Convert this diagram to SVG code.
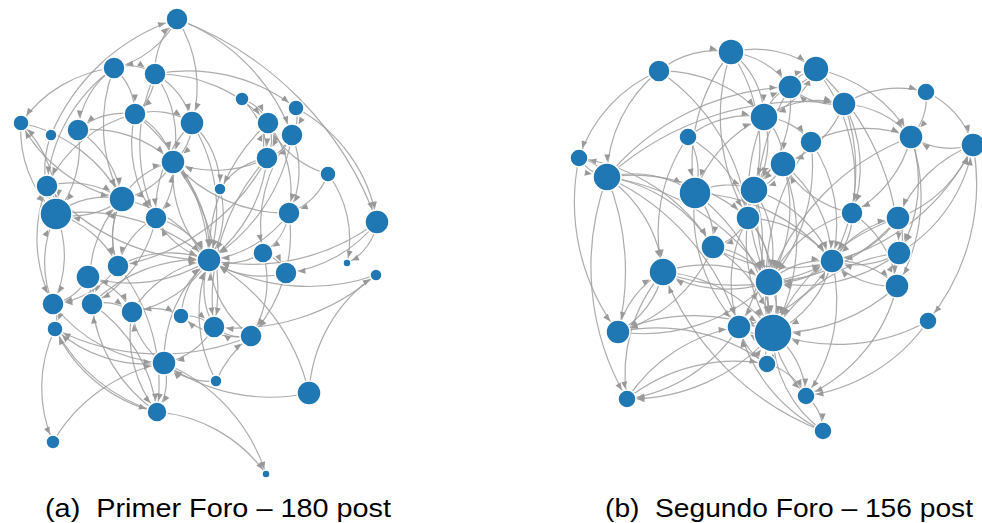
<svg xmlns="http://www.w3.org/2000/svg" width="982" height="523" viewBox="0 0 982 523">
<style>
.bg{fill:#fff}
.e path{fill:none;stroke:#9e9e9e;stroke-width:1.2;stroke-opacity:0.85}
.mk{fill:#999}
.n circle{fill:#1f77b4;stroke:#fff;stroke-width:1.5}
.cap{font-family:"Liberation Sans",Arial,sans-serif;font-size:25px;fill:#000}
.t4{marker-end:url(#m4)}.t6{marker-end:url(#m6)}.t7{marker-end:url(#m7)}.t8{marker-end:url(#m8)}
.t9{marker-end:url(#m9)}.t10{marker-end:url(#m10)}.t11{marker-end:url(#m11)}.t12{marker-end:url(#m12)}
.t13{marker-end:url(#m13)}.t14{marker-end:url(#m14)}.t16{marker-end:url(#m16)}.t19{marker-end:url(#m19)}
</style>
<defs>
<marker id="m4" markerUnits="userSpaceOnUse" markerWidth="8" markerHeight="7" refX="12.5" refY="3" orient="auto" overflow="visible"><path class="mk" d="M0,0L7,3L0,6Z"/></marker>
<marker id="m6" markerUnits="userSpaceOnUse" markerWidth="8" markerHeight="7" refX="14.5" refY="3" orient="auto" overflow="visible"><path class="mk" d="M0,0L7,3L0,6Z"/></marker>
<marker id="m7" markerUnits="userSpaceOnUse" markerWidth="8" markerHeight="7" refX="15.5" refY="3" orient="auto" overflow="visible"><path class="mk" d="M0,0L7,3L0,6Z"/></marker>
<marker id="m8" markerUnits="userSpaceOnUse" markerWidth="8" markerHeight="7" refX="16.5" refY="3" orient="auto" overflow="visible"><path class="mk" d="M0,0L7,3L0,6Z"/></marker>
<marker id="m9" markerUnits="userSpaceOnUse" markerWidth="8" markerHeight="7" refX="17.5" refY="3" orient="auto" overflow="visible"><path class="mk" d="M0,0L7,3L0,6Z"/></marker>
<marker id="m10" markerUnits="userSpaceOnUse" markerWidth="8" markerHeight="7" refX="18.5" refY="3" orient="auto" overflow="visible"><path class="mk" d="M0,0L7,3L0,6Z"/></marker>
<marker id="m11" markerUnits="userSpaceOnUse" markerWidth="8" markerHeight="7" refX="19.5" refY="3" orient="auto" overflow="visible"><path class="mk" d="M0,0L7,3L0,6Z"/></marker>
<marker id="m12" markerUnits="userSpaceOnUse" markerWidth="8" markerHeight="7" refX="20.5" refY="3" orient="auto" overflow="visible"><path class="mk" d="M0,0L7,3L0,6Z"/></marker>
<marker id="m13" markerUnits="userSpaceOnUse" markerWidth="8" markerHeight="7" refX="21.5" refY="3" orient="auto" overflow="visible"><path class="mk" d="M0,0L7,3L0,6Z"/></marker>
<marker id="m14" markerUnits="userSpaceOnUse" markerWidth="8" markerHeight="7" refX="22.5" refY="3" orient="auto" overflow="visible"><path class="mk" d="M0,0L7,3L0,6Z"/></marker>
<marker id="m16" markerUnits="userSpaceOnUse" markerWidth="8" markerHeight="7" refX="24.5" refY="3" orient="auto" overflow="visible"><path class="mk" d="M0,0L7,3L0,6Z"/></marker>
<marker id="m19" markerUnits="userSpaceOnUse" markerWidth="8" markerHeight="7" refX="27.5" refY="3" orient="auto" overflow="visible"><path class="mk" d="M0,0L7,3L0,6Z"/></marker>
</defs>
<rect class="bg" x="0" y="0" width="982" height="523"/>

<g id="connectors-a" class="e">
<path class="t11" d="M177 19A96 96 0 0 1 114 68"/>
<path class="t11" d="M155 74A72 72 0 0 1 177 19"/>
<path class="t11" d="M51 135A205 205 0 0 1 177 19"/>
<path class="t11" d="M177 19A195 195 0 0 1 292 135"/>
<path class="t12" d="M177 19A340 340 0 0 1 377 222"/>
<path class="t8" d="M114 68A130 130 0 0 0 21 123"/>
<path class="t8" d="M155 74A175 175 0 0 1 296 108"/>
<path class="t11" d="M155 74A150 150 0 0 1 268 123"/>
<path class="t11" d="M114 68A86 86 0 0 0 78 130"/>
<path class="t13" d="M114 68A157 157 0 0 0 122 199"/>
<path class="t12" d="M155 74A108 108 0 0 1 173 162"/>
<path class="t12" d="M135 114A70 70 0 0 1 192 123"/>
<path class="t11" d="M135 114A70 70 0 0 0 78 130"/>
<path class="t12" d="M135 114A197 197 0 0 1 209 260"/>
<path class="t11" d="M135 114A127 127 0 0 0 156 218"/>
<path class="t12" d="M192 123A52 52 0 0 1 173 162"/>
<path class="t12" d="M192 123A166 166 0 0 1 209 260"/>
<path class="t11" d="M268 123A42 42 0 0 1 267 158"/>
<path class="t11" d="M267 158A42 42 0 0 1 268 123"/>
<path class="t11" d="M292 135A41 41 0 0 1 267 158"/>
<path class="t11" d="M242 99A43 43 0 0 1 268 123"/>
<path class="t11" d="M296 108A35 35 0 0 1 292 135"/>
<path class="t12" d="M296 108A156 156 0 0 1 377 222"/>
<path class="t12" d="M173 162A127 127 0 0 1 209 260"/>
<path class="t13" d="M173 162A76 76 0 0 1 122 199"/>
<path class="t12" d="M122 199A76 76 0 0 1 173 162"/>
<path class="t12" d="M267 158A145 145 0 0 1 209 260"/>
<path class="t12" d="M220 189A86 86 0 0 1 209 260"/>
<path class="t12" d="M289 213A113 113 0 0 1 209 260"/>
<path class="t12" d="M377 222A209 209 0 0 1 209 260"/>
<path class="t12" d="M263 253A66 66 0 0 1 209 260"/>
<path class="t12" d="M286 273A94 94 0 0 1 209 260"/>
<path class="t12" d="M376 275A202 202 0 0 1 209 260"/>
<path class="t12" d="M251 336A103 103 0 0 1 209 260"/>
<path class="t12" d="M214 327A80 80 0 0 1 209 260"/>
<path class="t12" d="M156 218A83 83 0 0 1 209 260"/>
<path class="t12" d="M118 266A109 109 0 0 1 209 260"/>
<path class="t12" d="M132 312A109 109 0 0 1 209 260"/>
<path class="t12" d="M92 304A149 149 0 0 1 209 260"/>
<path class="t12" d="M56 214A192 192 0 0 1 209 260"/>
<path class="t12" d="M122 199A134 134 0 0 1 209 260"/>
<path class="t12" d="M47 186A212 212 0 0 0 209 260"/>
<path class="t12" d="M209 260A125 125 0 0 1 173 162"/>
<path class="t12" d="M209 260A148 148 0 0 1 88 277"/>
<path class="t11" d="M209 260A114 114 0 0 1 132 312"/>
<path class="t11" d="M209 260A83 83 0 0 1 156 218"/>
<path class="t13" d="M56 214A80 80 0 0 1 122 199"/>
<path class="t16" d="M122 199A80 80 0 0 1 56 214"/>
<path class="t16" d="M47 186A35 35 0 0 1 56 214"/>
<path class="t16" d="M21 123A116 116 0 0 0 56 214"/>
<path class="t8" d="M56 214A116 116 0 0 0 21 123"/>
<path class="t16" d="M78 130A106 106 0 0 1 56 214"/>
<path class="t11" d="M56 214A108 108 0 0 1 53 304"/>
<path class="t16" d="M53 304A108 108 0 0 1 56 214"/>
<path class="t11" d="M47 186A142 142 0 0 0 53 304"/>
<path class="t11" d="M88 277A53 53 0 0 1 53 304"/>
<path class="t11" d="M118 266A89 89 0 0 1 53 304"/>
<path class="t8" d="M53 304A30 30 0 0 1 55 329"/>
<path class="t7" d="M55 329A136 136 0 0 0 53 442"/>
<path class="t12" d="M53 442A166 166 0 0 1 164 363"/>
<path class="t4" d="M164 363A178 178 0 0 1 266 474"/>
<path class="t4" d="M157 412A148 148 0 0 1 266 474"/>
<path class="t12" d="M309 393A182 182 0 0 1 164 363"/>
<path class="t6" d="M309 393A152 152 0 0 1 376 275"/>
<path class="t12" d="M309 393A203 203 0 0 0 209 260"/>
<path class="t12" d="M216 381A145 145 0 0 1 209 260"/>
<path class="t11" d="M164 363A72 72 0 0 1 132 312"/>
<path class="t8" d="M164 363A137 137 0 0 1 55 329"/>
<path class="t10" d="M118 266A190 190 0 0 1 157 412"/>
<path class="t10" d="M132 312A125 125 0 0 0 157 412"/>
<path class="t10" d="M92 304A151 151 0 0 1 157 412"/>
<path class="t8" d="M251 336A235 235 0 0 1 55 329"/>
<path class="t4" d="M328 174A109 109 0 0 1 347 263"/>
<path class="t4" d="M377 222A54 54 0 0 1 347 263"/>
<path class="t11" d="M377 222A137 137 0 0 1 286 273"/>
<path class="t11" d="M376 275A214 214 0 0 1 214 327"/>
<path class="t11" d="M263 253A37 37 0 0 1 286 273"/>
<path class="t10" d="M289 213A58 58 0 0 1 263 253"/>
<path class="t11" d="M292 135A94 94 0 0 1 289 213"/>
<path class="t11" d="M267 158A210 210 0 0 0 214 327"/>
<path class="t11" d="M267 158A209 209 0 0 1 118 266"/>
<path class="t11" d="M328 174A65 65 0 0 1 289 213"/>
<path class="t11" d="M328 174A92 92 0 0 1 268 123"/>
<path class="t12" d="M177 19A126 126 0 0 1 192 123"/>
<path class="t11" d="M155 74A173 173 0 0 0 156 218"/>
<path class="t11" d="M155 74A56 56 0 0 1 135 114"/>
<path class="t11" d="M114 68A61 61 0 0 1 135 114"/>
<path class="t12" d="M78 130A120 120 0 0 1 173 162"/>
<path class="t13" d="M21 123A148 148 0 0 1 122 199"/>
<path class="t8" d="M122 199A148 148 0 0 1 21 123"/>
<path class="t13" d="M118 266A80 80 0 0 1 122 199"/>
<path class="t13" d="M92 304A120 120 0 0 1 122 199"/>
<path class="t12" d="M181 316A80 80 0 0 1 209 260"/>
<path class="t8" d="M132 312A59 59 0 0 1 181 316"/>
<path class="t12" d="M214 327A74 74 0 0 1 164 363"/>
<path class="t12" d="M164 363A134 134 0 0 1 209 260"/>
<path class="t11" d="M173 162A70 70 0 0 1 156 218"/>
<path class="t11" d="M192 123A124 124 0 0 0 156 218"/>
<path class="t12" d="M268 123A178 178 0 0 0 209 260"/>
<path class="t12" d="M292 135A180 180 0 0 1 209 260"/>
<path class="t11" d="M135 114A133 133 0 0 0 47 186"/>
<path class="t11" d="M114 68A160 160 0 0 0 47 186"/>
<path class="t16" d="M51 135A96 96 0 0 0 56 214"/>
<path class="t11" d="M156 218A128 128 0 0 1 92 304"/>
<path class="t11" d="M88 277A66 66 0 0 1 132 312"/>
<path class="t11" d="M157 412A150 150 0 0 1 92 304"/>
<path class="t10" d="M164 363A61 61 0 0 1 157 412"/>
<path class="t11" d="M122 199A80 80 0 0 0 118 266"/>
<path class="t8" d="M251 336A89 89 0 0 1 181 316"/>
<path class="t12" d="M267 158A113 113 0 0 1 173 162"/>
<path class="t12" d="M289 213A152 152 0 0 1 173 162"/>
<path class="t11" d="M216 381A120 120 0 0 1 251 336"/>
<path class="t8" d="M157 412A150 150 0 0 1 55 329"/>
<path class="t6" d="M192 123A88 88 0 0 1 220 189"/>
<path class="t6" d="M267 158A66 66 0 0 0 220 189"/>
<path class="t12" d="M135 114A73 73 0 0 1 173 162"/>
<path class="t13" d="M78 130A100 100 0 0 1 122 199"/>
<path class="t13" d="M47 186A91 91 0 0 1 122 199"/>
<path class="t11" d="M56 214A100 100 0 0 1 118 266"/>
<path class="t11" d="M88 277A32 32 0 0 1 92 304"/>
<path class="t11" d="M92 304A49 49 0 0 1 132 312"/>
<path class="t11" d="M156 218A73 73 0 0 0 118 266"/>
<path class="t11" d="M173 162A200 200 0 0 1 214 327"/>
<path class="t11" d="M263 253A101 101 0 0 1 251 336"/>
<path class="t11" d="M289 213A151 151 0 0 1 251 336"/>
<path class="t10" d="M292 135A148 148 0 0 0 263 253"/>
<path class="t11" d="M268 123A113 113 0 0 1 289 213"/>
<path class="t11" d="M242 99A79 79 0 0 1 267 158"/>
<path class="t11" d="M251 336A46 46 0 0 1 214 327"/>
<path class="t11" d="M181 316A42 42 0 0 1 214 327"/>
<path class="t12" d="M216 381A66 66 0 0 1 164 363"/>
<path class="t11" d="M155 74A74 74 0 0 1 192 123"/>
<path class="t11" d="M114 68A49 49 0 0 1 155 74"/>
<path class="t10" d="M55 329A172 172 0 0 0 157 412"/>
<path class="t12" d="M53 304A149 149 0 0 0 164 363"/>
</g>

<g id="connectors-b" class="e">
<path class="t13" d="M659 71A89 89 0 0 1 731 52"/>
<path class="t13" d="M731 52A104 104 0 0 1 816 69"/>
<path class="t12" d="M731 52A84 84 0 0 1 790 87"/>
<path class="t14" d="M731 52A83 83 0 0 1 764 117"/>
<path class="t16" d="M731 52A173 173 0 0 0 695 193"/>
<path class="t14" d="M731 52A167 167 0 0 1 754 190"/>
<path class="t14" d="M659 71A137 137 0 0 1 764 117"/>
<path class="t12" d="M659 71A206 206 0 0 1 748 218"/>
<path class="t12" d="M816 69A40 40 0 0 1 790 87"/>
<path class="t13" d="M790 87A40 40 0 0 1 816 69"/>
<path class="t12" d="M816 69A142 142 0 0 1 911 137"/>
<path class="t12" d="M816 69A254 254 0 0 1 899 253"/>
<path class="t12" d="M844 104A94 94 0 0 1 911 137"/>
<path class="t9" d="M844 104A100 100 0 0 1 926 92"/>
<path class="t12" d="M844 104A67 67 0 0 1 790 87"/>
<path class="t13" d="M844 104A102 102 0 0 1 783 164"/>
<path class="t12" d="M764 117A46 46 0 0 1 790 87"/>
<path class="t12" d="M764 117A97 97 0 0 1 844 104"/>
<path class="t13" d="M764 117A61 61 0 0 1 783 164"/>
<path class="t11" d="M764 117A64 64 0 0 1 811 142"/>
<path class="t14" d="M688 137A96 96 0 0 1 764 117"/>
<path class="t12" d="M688 137A122 122 0 0 1 748 218"/>
<path class="t14" d="M688 137A166 166 0 0 0 663 272"/>
<path class="t12" d="M973 145A76 76 0 0 1 911 137"/>
<path class="t12" d="M811 142A120 120 0 0 1 911 137"/>
<path class="t12" d="M926 92A56 56 0 0 1 911 137"/>
<path class="t12" d="M579 158A215 215 0 0 0 618 332"/>
<path class="t9" d="M607 177A43 43 0 0 0 579 158"/>
<path class="t16" d="M607 177A109 109 0 0 1 695 193"/>
<path class="t12" d="M607 177A247 247 0 0 1 790 87"/>
<path class="t12" d="M607 177A296 296 0 0 1 844 104"/>
<path class="t12" d="M607 177A250 250 0 0 1 618 332"/>
<path class="t14" d="M607 177A132 132 0 0 1 663 272"/>
<path class="t12" d="M607 177A151 151 0 0 1 713 247"/>
<path class="t14" d="M695 193A71 71 0 0 1 754 190"/>
<path class="t12" d="M695 193A68 68 0 0 1 713 247"/>
<path class="t14" d="M695 193A130 130 0 0 1 764 117"/>
<path class="t13" d="M754 190A46 46 0 0 1 783 164"/>
<path class="t14" d="M783 164A46 46 0 0 1 754 190"/>
<path class="t14" d="M754 190A112 112 0 0 1 769 282"/>
<path class="t14" d="M748 218A82 82 0 0 1 769 282"/>
<path class="t12" d="M748 218A55 55 0 0 1 713 247"/>
<path class="t12" d="M852 213A61 61 0 0 1 832 261"/>
<path class="t13" d="M852 213A102 102 0 0 1 783 164"/>
<path class="t12" d="M898 218A98 98 0 0 1 832 261"/>
<path class="t14" d="M898 218A175 175 0 0 1 769 282"/>
<path class="t14" d="M899 253A162 162 0 0 1 769 282"/>
<path class="t12" d="M899 253A154 154 0 0 0 973 145"/>
<path class="t14" d="M832 261A80 80 0 0 1 769 282"/>
<path class="t19" d="M832 261A109 109 0 0 1 773 333"/>
<path class="t19" d="M897 286A179 179 0 0 1 773 333"/>
<path class="t12" d="M897 286A84 84 0 0 1 832 261"/>
<path class="t19" d="M769 282A61 61 0 0 1 773 333"/>
<path class="t14" d="M773 333A61 61 0 0 1 769 282"/>
<path class="t14" d="M713 247A76 76 0 0 1 769 282"/>
<path class="t14" d="M663 272A127 127 0 0 1 769 282"/>
<path class="t14" d="M769 282A127 127 0 0 1 663 272"/>
<path class="t12" d="M663 272A91 91 0 0 1 618 332"/>
<path class="t14" d="M618 332A91 91 0 0 1 663 272"/>
<path class="t9" d="M618 332A186 186 0 0 1 767 364"/>
<path class="t12" d="M627 399A163 163 0 0 1 739 327"/>
<path class="t9" d="M627 399A175 175 0 0 1 767 364"/>
<path class="t9" d="M773 333A190 190 0 0 1 627 399"/>
<path class="t19" d="M618 332A186 186 0 0 1 773 333"/>
<path class="t19" d="M739 327A42 42 0 0 1 773 333"/>
<path class="t12" d="M773 333A42 42 0 0 1 739 327"/>
<path class="t9" d="M767 364A59 59 0 0 1 806 396"/>
<path class="t9" d="M773 333A84 84 0 0 1 806 396"/>
<path class="t9" d="M806 396A47 47 0 0 1 823 431"/>
<path class="t9" d="M928 321A178 178 0 0 1 806 396"/>
<path class="t9" d="M897 286A163 163 0 0 1 806 396"/>
<path class="t19" d="M928 321A187 187 0 0 1 773 333"/>
<path class="t9" d="M973 145A216 216 0 0 1 928 321"/>
<path class="t14" d="M823 431A280 280 0 0 1 663 272"/>
<path class="t19" d="M823 431A120 120 0 0 1 773 333"/>
<path class="t12" d="M823 431A160 160 0 0 1 739 327"/>
<path class="t19" d="M767 364A37 37 0 0 1 773 333"/>
<path class="t9" d="M663 272A156 156 0 0 0 627 399"/>
<path class="t19" d="M713 247A122 122 0 0 1 773 333"/>
<path class="t19" d="M695 193A196 196 0 0 1 773 333"/>
<path class="t12" d="M695 193A168 168 0 0 0 739 327"/>
<path class="t12" d="M754 190A164 164 0 0 1 739 327"/>
<path class="t19" d="M748 218A140 140 0 0 1 773 333"/>
<path class="t12" d="M811 142A145 145 0 0 1 832 261"/>
<path class="t14" d="M811 142A178 178 0 0 1 769 282"/>
<path class="t14" d="M783 164A142 142 0 0 1 769 282"/>
<path class="t12" d="M783 164A128 128 0 0 1 832 261"/>
<path class="t14" d="M764 117A88 88 0 0 1 754 190"/>
<path class="t14" d="M790 87A128 128 0 0 1 754 190"/>
<path class="t16" d="M688 137A67 67 0 0 1 695 193"/>
<path class="t14" d="M579 158A43 43 0 0 0 607 177"/>
<path class="t14" d="M659 71A138 138 0 0 0 607 177"/>
<path class="t12" d="M607 177A176 176 0 0 1 748 218"/>
<path class="t12" d="M911 137A179 179 0 0 1 897 286"/>
<path class="t12" d="M911 137A139 139 0 0 1 899 253"/>
<path class="t11" d="M911 137A119 119 0 0 1 852 213"/>
<path class="t12" d="M898 218A131 131 0 0 0 973 145"/>
<path class="t12" d="M832 261A212 212 0 0 0 973 145"/>
<path class="t12" d="M899 253A82 82 0 0 1 832 261"/>
<path class="t12" d="M897 286A40 40 0 0 1 899 253"/>
<path class="t12" d="M898 218A42 42 0 0 1 899 253"/>
<path class="t12" d="M832 261A98 98 0 0 1 898 218"/>
<path class="t12" d="M852 213A101 101 0 0 1 897 286"/>
<path class="t12" d="M748 218A110 110 0 0 1 832 261"/>
<path class="t12" d="M769 282A80 80 0 0 1 832 261"/>
<path class="t11" d="M844 104A131 131 0 0 1 852 213"/>
<path class="t14" d="M816 69A86 86 0 0 1 764 117"/>
<path class="t9" d="M659 71A143 143 0 0 0 579 158"/>
<path class="t12" d="M607 177A247 247 0 0 1 739 327"/>
<path class="t12" d="M713 247A150 150 0 0 1 618 332"/>
<path class="t19" d="M663 272A149 149 0 0 1 773 333"/>
<path class="t12" d="M832 261A84 84 0 0 1 897 286"/>
<path class="t12" d="M926 92A86 86 0 0 1 973 145"/>
<path class="t9" d="M607 177A260 260 0 0 0 627 399"/>
<path class="t12" d="M695 193A184 184 0 0 1 832 261"/>
<path class="t12" d="M754 190A126 126 0 0 1 832 261"/>
<path class="t19" d="M754 190A172 172 0 0 0 773 333"/>
<path class="t19" d="M783 164A203 203 0 0 1 773 333"/>
<path class="t19" d="M811 142A230 230 0 0 0 773 333"/>
<path class="t14" d="M911 137A240 240 0 0 0 769 282"/>
<path class="t19" d="M898 218A208 208 0 0 0 773 333"/>
<path class="t19" d="M899 253A169 169 0 0 0 773 333"/>
<path class="t14" d="M852 213A128 128 0 0 0 769 282"/>
<path class="t12" d="M713 247A144 144 0 0 0 832 261"/>
<path class="t12" d="M739 327A140 140 0 0 0 832 261"/>
<path class="t12" d="M663 272A204 204 0 0 0 832 261"/>
<path class="t14" d="M618 332A180 180 0 0 0 769 282"/>
<path class="t12" d="M748 218A131 131 0 0 0 739 327"/>
<path class="t14" d="M764 117A198 198 0 0 0 769 282"/>
<path class="t14" d="M790 87A235 235 0 0 0 769 282"/>
<path class="t12" d="M731 52A200 200 0 0 0 748 218"/>
<path class="t12" d="M579 158A190 190 0 0 1 713 247"/>
<path class="t14" d="M607 177A230 230 0 0 1 769 282"/>
<path class="t12" d="M767 364A55 55 0 0 1 739 327"/>
<path class="t9" d="M739 327A160 160 0 0 1 627 399"/>
<path class="t9" d="M832 261A164 164 0 0 1 806 396"/>
<path class="t9" d="M769 282A142 142 0 0 0 806 396"/>
<path class="t12" d="M973 145A132 132 0 0 0 898 218"/>
<path class="t12" d="M844 104A188 188 0 0 1 832 261"/>
<path class="t11" d="M816 69A179 179 0 0 1 852 213"/>
</g>

<g class="n">
<g id="a1"><circle cx="177" cy="19" r="11"/></g>
<g id="a2"><circle cx="114" cy="68" r="11"/></g>
<g id="a3"><circle cx="155" cy="74" r="11"/></g>
<g id="a4"><circle cx="242" cy="99" r="7"/></g>
<g id="a5"><circle cx="296" cy="108" r="8"/></g>
<g id="a6"><circle cx="21" cy="123" r="8"/></g>
<g id="a7"><circle cx="51" cy="135" r="6"/></g>
<g id="a8"><circle cx="78" cy="130" r="11"/></g>
<g id="a9"><circle cx="135" cy="114" r="11"/></g>
<g id="a10"><circle cx="192" cy="123" r="12"/></g>
<g id="a11"><circle cx="268" cy="123" r="11"/></g>
<g id="a12"><circle cx="292" cy="135" r="11"/></g>
<g id="a13"><circle cx="173" cy="162" r="12"/></g>
<g id="a14"><circle cx="267" cy="158" r="11"/></g>
<g id="a15"><circle cx="328" cy="174" r="8"/></g>
<g id="a16"><circle cx="220" cy="189" r="6"/></g>
<g id="a17"><circle cx="47" cy="186" r="11"/></g>
<g id="a18"><circle cx="122" cy="199" r="13"/></g>
<g id="a19"><circle cx="56" cy="214" r="16"/></g>
<g id="a20"><circle cx="156" cy="218" r="11"/></g>
<g id="a21"><circle cx="289" cy="213" r="11"/></g>
<g id="a22"><circle cx="377" cy="222" r="12"/></g>
<g id="a23"><circle cx="209" cy="260" r="12"/></g>
<g id="a24"><circle cx="263" cy="253" r="10"/></g>
<g id="a25"><circle cx="286" cy="273" r="11"/></g>
<g id="a26"><circle cx="347" cy="263" r="4"/></g>
<g id="a27"><circle cx="376" cy="275" r="6"/></g>
<g id="a28"><circle cx="118" cy="266" r="11"/></g>
<g id="a29"><circle cx="88" cy="277" r="12"/></g>
<g id="a30"><circle cx="53" cy="304" r="11"/></g>
<g id="a31"><circle cx="92" cy="304" r="11"/></g>
<g id="a32"><circle cx="132" cy="312" r="11"/></g>
<g id="a33"><circle cx="181" cy="316" r="8"/></g>
<g id="a34"><circle cx="214" cy="327" r="11"/></g>
<g id="a35"><circle cx="251" cy="336" r="11"/></g>
<g id="a36"><circle cx="55" cy="329" r="8"/></g>
<g id="a37"><circle cx="164" cy="363" r="12"/></g>
<g id="a38"><circle cx="216" cy="381" r="6"/></g>
<g id="a39"><circle cx="309" cy="393" r="12"/></g>
<g id="a40"><circle cx="157" cy="412" r="10"/></g>
<g id="a41"><circle cx="53" cy="442" r="7"/></g>
<g id="a42"><circle cx="266" cy="474" r="4"/></g>

<g id="b1"><circle cx="731" cy="52" r="13"/></g>
<g id="b2"><circle cx="659" cy="71" r="11"/></g>
<g id="b3"><circle cx="816" cy="69" r="13"/></g>
<g id="b4"><circle cx="790" cy="87" r="12"/></g>
<g id="b5"><circle cx="926" cy="92" r="9"/></g>
<g id="b6"><circle cx="844" cy="104" r="12"/></g>
<g id="b7"><circle cx="764" cy="117" r="14"/></g>
<g id="b8"><circle cx="688" cy="137" r="9"/></g>
<g id="b9"><circle cx="911" cy="137" r="12"/></g>
<g id="b10"><circle cx="973" cy="145" r="12"/></g>
<g id="b11"><circle cx="811" cy="142" r="11"/></g>
<g id="b12"><circle cx="579" cy="158" r="9"/></g>
<g id="b13"><circle cx="607" cy="177" r="14"/></g>
<g id="b14"><circle cx="783" cy="164" r="13"/></g>
<g id="b15"><circle cx="695" cy="193" r="16"/></g>
<g id="b16"><circle cx="754" cy="190" r="14"/></g>
<g id="b17"><circle cx="748" cy="218" r="12"/></g>
<g id="b18"><circle cx="852" cy="213" r="11"/></g>
<g id="b19"><circle cx="898" cy="218" r="12"/></g>
<g id="b20"><circle cx="713" cy="247" r="12"/></g>
<g id="b21"><circle cx="899" cy="253" r="12"/></g>
<g id="b22"><circle cx="832" cy="261" r="12"/></g>
<g id="b23"><circle cx="663" cy="272" r="14"/></g>
<g id="b24"><circle cx="769" cy="282" r="14"/></g>
<g id="b25"><circle cx="897" cy="286" r="12"/></g>
<g id="b26"><circle cx="618" cy="332" r="12"/></g>
<g id="b27"><circle cx="739" cy="327" r="12"/></g>
<g id="b28"><circle cx="773" cy="333" r="19"/></g>
<g id="b29"><circle cx="928" cy="321" r="9"/></g>
<g id="b30"><circle cx="767" cy="364" r="9"/></g>
<g id="b31"><circle cx="627" cy="399" r="9"/></g>
<g id="b32"><circle cx="806" cy="396" r="9"/></g>
<g id="b33"><circle cx="823" cy="431" r="9"/></g>
</g>

<text class="cap" x="45" y="517" textLength="346" lengthAdjust="spacingAndGlyphs">(a)&#160; Primer Foro – 180 post</text>
<text class="cap" x="605" y="517" textLength="368" lengthAdjust="spacingAndGlyphs">(b)&#160; Segundo Foro – 156 post</text>
</svg>
